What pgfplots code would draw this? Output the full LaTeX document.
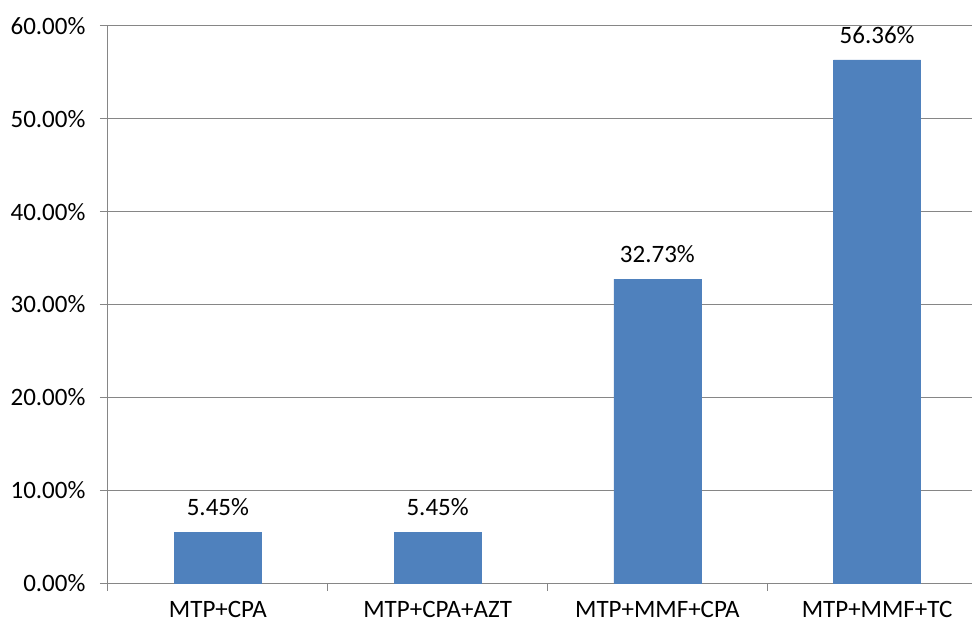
\documentclass[border=0pt]{standalone}
\usepackage{pgfplots}
\pgfplotsset{compat=1.18}
\usepackage{fontspec}
\setmainfont{Carlito}
\definecolor{barblue}{HTML}{4F81BD}
\definecolor{gridgray}{HTML}{868686}
\begin{document}
\fontsize{25bp}{29bp}\selectfont
\begin{tikzpicture}
\useasboundingbox (-108bp,-43bp) rectangle (864bp,583bp);
\begin{axis}[
  scale only axis,
  width=879bp, height=557bp,
  anchor=south west, at={(0,0)},
  xmin=-0.5, xmax=3.5,
  ymin=0, ymax=60,
  ytick={0,10,20,30,40,50,60},
  yticklabel={\pgfmathprintnumber[fixed,fixed zerofill,precision=2]{\tick}\%},
  /pgf/number format/assume math mode=true,
  xtick={0,1,2,3},
  xticklabels={MTP+CPA, MTP+CPA+AZT, MTP+MMF+CPA, MTP+MMF+TC},
  minor xtick={-0.5,0.5,1.5,2.5,3.5},
  major x tick style={draw=none},
  minor x tick style={draw=gridgray, line width=1bp},
  y tick style={draw=gridgray, line width=1bp},
  tick align=outside,
  major tick length=8bp,
  minor tick length=8bp,
  ymajorgrids,
  grid style={draw=gridgray, line width=1bp},
  axis x line*=bottom,
  axis y line*=left,
  axis line style={draw=gridgray, line width=1bp, -},
  tick label style={font=\fontsize{25bp}{29bp}\selectfont, text=black},
  yticklabel style={xshift=-6bp},
  xticklabel style={inner sep=0.5bp, yshift=-10bp},
  ybar,
  bar width=0.396,
  nodes near coords={\pgfmathprintnumber[fixed,fixed zerofill,precision=2]{\pgfplotspointmeta}\%},
  nodes near coords style={font=\fontsize{25bp}{29bp}\selectfont, text=black, anchor=south, yshift=8bp, /pgf/number format/assume math mode=true},
  clip=false,
]
\addplot[fill=barblue, draw=barblue] coordinates {(0,5.45) (1,5.45) (2,32.73) (3,56.36)};
\end{axis}
\end{tikzpicture}
\end{document}
